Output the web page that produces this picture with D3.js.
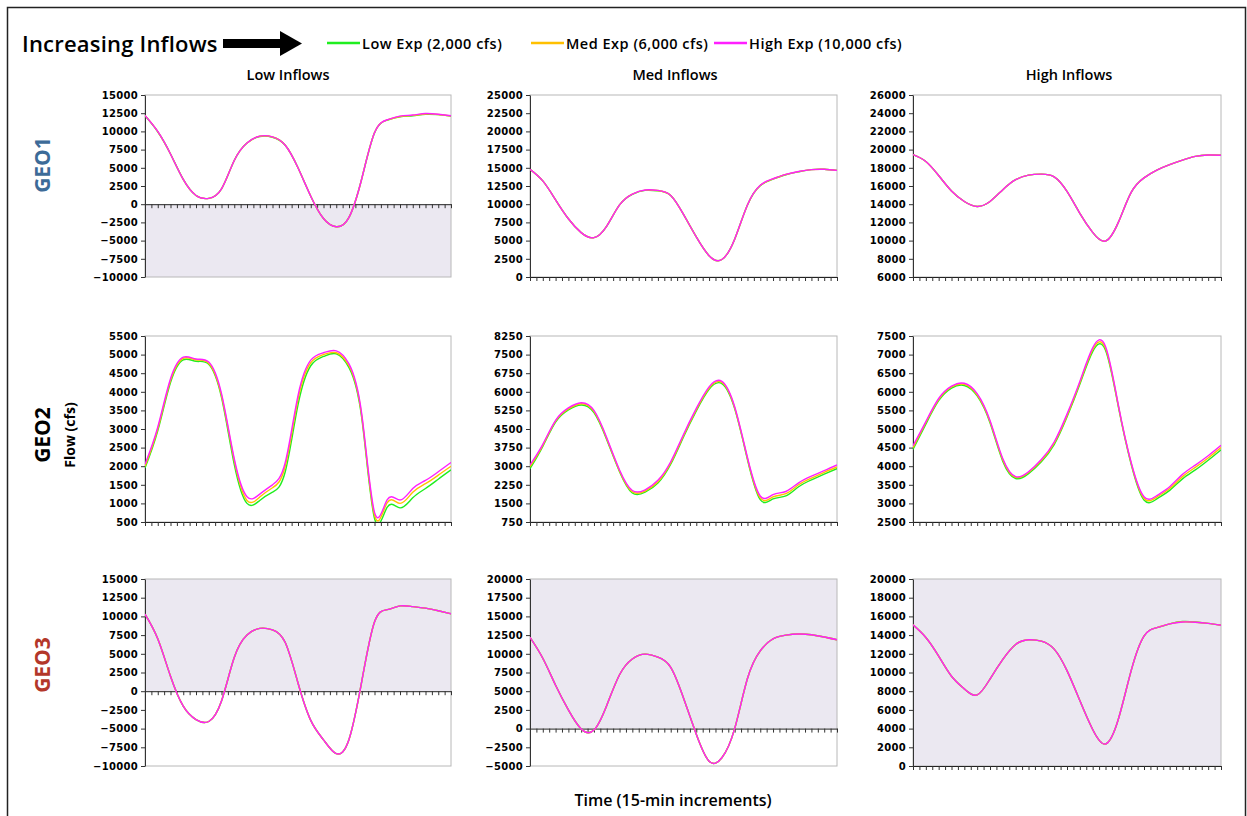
<!DOCTYPE html>
<html>
<head>
<meta charset="utf-8">
<script src="https://cdn.jsdelivr.net/npm/d3@7"></script>
<style>
body { margin: 0; background: #fff; }
text { font-family: "Open Sans", sans-serif; }
.tick text { font-family: "DejaVu Sans", sans-serif; font-weight: bold; font-size: 10px; letter-spacing: 0.3px; fill: #000; }
</style>
</head>
<body>
<script>
// categories
var seriesNames = ["Low Exp (2,000 cfs)", "Med Exp (6,000 cfs)", "High Exp (10,000 cfs)"]
var rowNames = ["GEO1", "GEO2", "GEO3"]
var colNames = ["Low Inflows", "Med Inflows", "High Inflows"]
var nSteps = 48      // 15-min increments shown on the x axis
var sampleEvery = 2  // one value read every 2 increments

// y axis ticks [min, max, step] per row / column
var yTicksGeo1 = [[-10000, 15000, 2500], [0, 25000, 2500], [6000, 26000, 2000]]
var yTicksGeo2 = [[500, 5500, 500], [750, 8250, 750], [2500, 7500, 500]]
var yTicksGeo3 = [[-10000, 15000, 2500], [-5000, 20000, 2500], [0, 20000, 2000]]

// GEO1
var geo1Low_lowExp  = [12150,9950,6900,3400,1200,800,2100,6000,8400,9300,9200,8100,5000,1100,-1970,-3100,-1800,3500,9800,11550,12000,12150,12350,12300,12100]
var geo1Low_medExp  = [12180,9980,6900,3400,1200,800,2100,6000,8400,9330,9230,8100,5000,1100,-1970,-3100,-1800,3500,9800,11580,12050,12200,12400,12330,12130]
var geo1Low_highExp = [12200,10000,6900,3400,1200,800,2100,6000,8400,9350,9250,8100,5000,1100,-1970,-3100,-1800,3500,9800,11600,12100,12250,12450,12350,12150]

var geo1Med_lowExp  = [14800,13200,10600,8000,6100,5400,7000,9900,11350,11900,11850,11200,8600,5500,2930,2400,5200,9900,12550,13450,14050,14450,14750,14800,14650]
var geo1Med_medExp  = [14800,13200,10600,8000,6100,5400,7000,9900,11380,11930,11880,11200,8600,5500,2930,2400,5200,9900,12580,13480,14080,14480,14750,14800,14650]
var geo1Med_highExp = [14800,13200,10600,8000,6100,5400,7000,9900,11400,11950,11900,11200,8600,5500,2930,2400,5200,9900,12600,13500,14100,14500,14750,14800,14650]

var geo1High_lowExp  = [19450,18700,17150,15450,14300,13750,14300,15600,16700,17200,17300,17000,15400,13000,10900,9950,12000,15300,16900,17750,18350,18850,19250,19400,19380]
var geo1High_medExp  = [19450,18700,17150,15450,14300,13750,14300,15600,16700,17200,17300,17000,15400,13000,10900,9950,12000,15300,16900,17750,18350,18850,19250,19400,19380]
var geo1High_highExp = [19450,18700,17150,15450,14300,13750,14300,15600,16700,17200,17300,17000,15400,13000,10900,9950,12000,15300,16900,17750,18350,18850,19250,19400,19380]

// GEO2
var geo2Low_lowExp  = [1950,2950,4250,4860,4820,4740,3850,2050,1000,1080,1300,1850,3650,4700,4950,5020,4650,3300,600,900,880,1150,1400,1650,1900]
var geo2Low_medExp  = [2000,3000,4300,4900,4860,4770,3900,2150,1080,1170,1420,2000,3800,4780,5000,5050,4700,3350,680,1020,1000,1300,1530,1760,2000]
var geo2Low_highExp = [2050,3050,4350,4930,4880,4800,3950,2200,1180,1250,1500,2100,3900,4850,5050,5100,4750,3400,760,1100,1090,1400,1620,1850,2100]

var geo2Med_lowExp  = [2900,3800,4780,5270,5470,5160,4070,2780,1920,1950,2320,3080,4180,5230,6100,6330,5320,3270,1650,1680,1800,2170,2450,2680,2900]
var geo2Med_medExp  = [2980,3840,4820,5310,5520,5210,4110,2810,1970,2000,2370,3130,4230,5280,6150,6380,5360,3310,1720,1760,1890,2250,2520,2750,2970]
var geo2Med_highExp = [3050,3880,4850,5350,5560,5250,4150,2850,2020,2050,2430,3180,4280,5330,6200,6420,5400,3350,1800,1850,1980,2330,2600,2820,3050]

var geo2High_lowExp  = [4450,5130,5760,6100,6170,5890,5170,4130,3670,3800,4120,4580,5320,6200,7080,7120,5600,4050,3090,3120,3350,3660,3900,4160,4440]
var geo2High_medExp  = [4500,5170,5790,6130,6200,5920,5200,4170,3700,3830,4150,4620,5360,6240,7130,7170,5620,4080,3140,3170,3400,3720,3970,4220,4500]
var geo2High_highExp = [4550,5200,5820,6150,6230,5950,5230,4200,3720,3850,4180,4650,5400,6280,7180,7220,5650,4100,3180,3210,3450,3780,4030,4280,4560]

// GEO3
var geo3Low_lowExp  = [10300,7000,2000,-2000,-3800,-4050,-1300,4500,7500,8400,8200,6500,1100,-3900,-6500,-8350,-6450,1300,9250,10900,11400,11300,11100,10750,10350]
var geo3Low_medExp  = [10300,7000,2000,-2000,-3800,-4050,-1300,4500,7500,8400,8200,6500,1100,-3900,-6500,-8350,-6450,1300,9250,10900,11400,11300,11100,10750,10350]
var geo3Low_highExp = [10300,7000,2000,-2000,-3800,-4050,-1300,4500,7500,8400,8200,6500,1100,-3900,-6500,-8350,-6450,1300,9250,10900,11400,11300,11100,10750,10350]

var geo3Med_lowExp  = [12200,9400,5800,2500,-50,-200,3100,7200,9300,9950,9550,8200,4100,-750,-4350,-3900,0,6700,10400,12000,12500,12650,12550,12250,11880]
var geo3Med_medExp  = [12200,9400,5800,2500,-50,-200,3100,7200,9300,9950,9550,8200,4100,-750,-4350,-3900,0,6700,10400,12000,12500,12650,12550,12250,11880]
var geo3Med_highExp = [12200,9400,5800,2500,-50,-200,3100,7200,9300,9950,9550,8200,4100,-750,-4350,-3900,0,6700,10400,12000,12500,12650,12550,12250,11880]

var geo3High_lowExp  = [15100,13750,11750,9600,8250,7600,9300,11400,13000,13500,13350,12500,10200,7000,3900,2350,5000,10200,13900,14800,15200,15450,15400,15250,15050]
var geo3High_medExp  = [15100,13750,11750,9600,8250,7600,9300,11400,13000,13500,13350,12500,10200,7000,3900,2350,5000,10200,13900,14800,15200,15420,15380,15250,15050]
var geo3High_highExp = [15100,13750,11750,9600,8250,7600,9300,11400,13000,13500,13350,12500,10200,7000,3900,2350,5000,10200,13900,14800,15200,15400,15380,15250,15050]

var panelData = [
    [[geo1Low_lowExp, geo1Low_medExp, geo1Low_highExp], [geo1Med_lowExp, geo1Med_medExp, geo1Med_highExp], [geo1High_lowExp, geo1High_medExp, geo1High_highExp]],
    [[geo2Low_lowExp, geo2Low_medExp, geo2Low_highExp], [geo2Med_lowExp, geo2Med_medExp, geo2Med_highExp], [geo2High_lowExp, geo2High_medExp, geo2High_highExp]],
    [[geo3Low_lowExp, geo3Low_medExp, geo3Low_highExp], [geo3Med_lowExp, geo3Med_medExp, geo3Med_highExp], [geo3High_lowExp, geo3High_medExp, geo3High_highExp]]
]
var yTicks = [yTicksGeo1, yTicksGeo2, yTicksGeo3]

// ---- layout / style ----
var width = 1247
var height = 816
var colors = ["#1fee1f", "#ffc000", "#ff1fff"]
var rowColors = ["#3d6b98", "#000000", "#b3372a"]
var shadeMode = ["below", null, "above"]   // GEO1 negative side shaded, GEO3 positive side
var shadeColor = "#ebe8f1"
var colX = [[145, 451], [530, 837], [913, 1221]]
var rowY = [[95, 277], [336, 522], [579, 766]]

var svg = d3.select("body")
    .append("svg")
    .attr("width", width)
    .attr("height", height)

// marco exterior
svg.append("rect")
    .attr("x", 7.5).attr("y", 7.5)
    .attr("width", 1238).attr("height", 820)
    .attr("fill", "none")
    .attr("stroke", "#222")
    .attr("stroke-width", 1.5)

// cabecera
svg.append("text")
    .attr("x", 22).attr("y", 52)
    .attr("font-size", 22).attr("font-weight", 600)
    .attr("letter-spacing", 0.2)
    .text("Increasing Inflows")

svg.append("rect").attr("x", 223).attr("y", 39).attr("width", 59).attr("height", 9).attr("fill", "#000")
svg.append("path").attr("d", "M280,31 L302,43.5 L280,56 Z").attr("fill", "#000")

var legendX = [327, 531, 714]
var legendLen = 33
seriesNames.forEach(function (nombre, i) {
    svg.append("line")
        .attr("x1", legendX[i]).attr("x2", legendX[i] + legendLen)
        .attr("y1", 43).attr("y2", 43)
        .attr("stroke", colors[i]).attr("stroke-width", 2.5)
    svg.append("text")
        .attr("x", legendX[i] + legendLen + 2).attr("y", 48.5)
        .attr("font-size", 14.5).attr("font-weight", 600)
        .attr("letter-spacing", 0.5)
        .text(nombre)
})

var colCenter = [288, 675, 1069]
colNames.forEach(function (nombre, c) {
    svg.append("text")
        .attr("x", colCenter[c]).attr("y", 80)
        .attr("text-anchor", "middle")
        .attr("font-size", 14.5).attr("font-weight", 600)
        .text(nombre)
})

rowNames.forEach(function (nombre, r) {
    var cy = [165, 435, 665][r]
    svg.append("text")
        .attr("transform", "translate(50," + cy + ") rotate(-90)")
        .attr("text-anchor", "middle")
        .attr("font-size", 21).attr("font-weight", 700)
        .attr("fill", rowColors[r])
        .text(nombre)
})

svg.append("text")
    .attr("transform", "translate(75,435) rotate(-90)")
    .attr("text-anchor", "middle")
    .attr("font-size", 14).attr("font-weight", 700)
    .text("Flow (cfs)")

svg.append("text")
    .attr("x", 673).attr("y", 806)
    .attr("text-anchor", "middle")
    .attr("font-size", 16).attr("font-weight", 600)
    .text("Time (15-min increments)")

// paneles
rowNames.forEach(function (rn, r) {
    colNames.forEach(function (cn, c) {
        var t = yTicks[r][c]
        var x0 = colX[c][0], x1 = colX[c][1]
        var y0 = rowY[r][0], y1 = rowY[r][1]

        var escalaX = d3.scaleLinear().domain([0, nSteps]).range([x0, x1])
        var escalaY = d3.scaleLinear().domain([t[0], t[1]]).range([y1, y0])

        var g = svg.append("g")
        var clipId = "clip" + r + c
        g.append("clipPath").attr("id", clipId)
            .append("rect").attr("x", x0).attr("y", y0).attr("width", x1 - x0).attr("height", y1 - y0)

        // sombreado
        var zero = t[0] < 0 ? escalaY(0) : y1
        if (shadeMode[r] == "below" && t[0] < 0) {
            g.append("rect").attr("x", x0).attr("y", zero).attr("width", x1 - x0).attr("height", y1 - zero).attr("fill", shadeColor)
        }
        if (shadeMode[r] == "above") {
            g.append("rect").attr("x", x0).attr("y", y0).attr("width", x1 - x0).attr("height", zero - y0).attr("fill", shadeColor)
        }

        g.append("rect")
            .attr("x", x0).attr("y", y0).attr("width", x1 - x0).attr("height", y1 - y0)
            .attr("fill", "none").attr("stroke", "#b8b8b8").attr("stroke-width", 1)

        var ejeY = d3.axisLeft(escalaY)
            .tickValues(d3.range(t[0], t[1] + 1, t[2]))
            .tickFormat(d3.format("d"))
            .tickSize(4).tickSizeOuter(0)
        g.append("g")
            .attr("transform", "translate(" + x0 + ",0)")
            .call(ejeY)
            .call(function (a) { a.select(".domain").attr("stroke", "#333") })
            .call(function (a) { a.selectAll("line").attr("stroke", "#333") })

        var ejeX = d3.axisBottom(escalaX)
            .tickValues(d3.range(0, nSteps + 1))
            .tickFormat("")
            .tickSize(4).tickSizeOuter(0)
        g.append("g")
            .attr("transform", "translate(0," + zero + ")")
            .call(ejeX)
            .call(function (a) { a.select(".domain").attr("stroke", "#222") })
            .call(function (a) { a.selectAll("line").attr("stroke", "#333") })

        var linea = d3.line()
            .x(function (d, i) { return escalaX(i * sampleEvery) })
            .y(function (d) { return escalaY(d) })
            .curve(d3.curveNatural)

        panelData[r][c].forEach(function (serie, s) {
            g.append("path")
                .attr("clip-path", "url(#" + clipId + ")")
                .attr("d", linea(serie))
                .attr("fill", "none")
                .attr("stroke", colors[s])
                .attr("stroke-width", 1.4)
        })
    })
})
</script>
</body>
</html>
